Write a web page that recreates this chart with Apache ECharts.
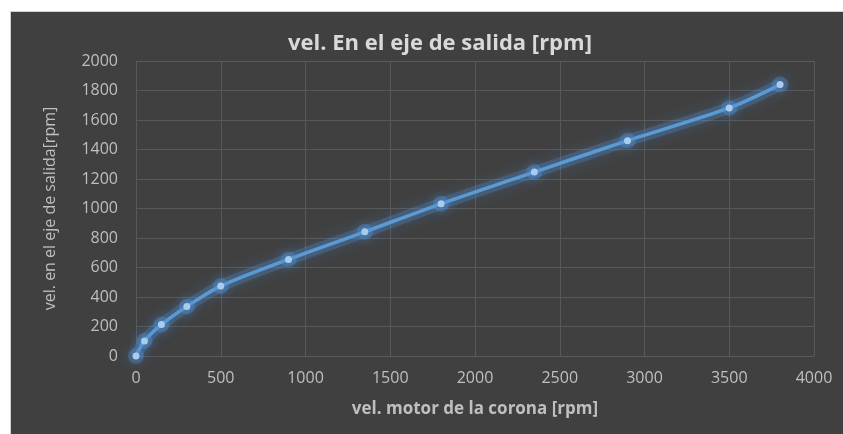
<!DOCTYPE html>
<html>
<head>
<meta charset="utf-8">
<script src="https://cdn.jsdelivr.net/npm/echarts@6/dist/echarts.min.js"></script>
<style>
  html, body { margin: 0; padding: 0; background: #fff; }
  #panel { position: absolute; left: 10px; top: 11px; width: 833px; height: 423px;
           background: #404040; border-left: 1px solid #d0d0d0; border-top: 1px solid #d0d0d0; box-sizing: border-box; }
  #chart { width: 100%; height: 100%; }
</style>
</head>
<body>
<div id="panel"><div id="chart"></div></div>
<script>
const titleText = 'vel. En el eje de salida [rpm]'
const xName = 'vel. motor de la corona [rpm]'
const yName = 'vel. en el eje de salida[rpm]'
// motor speed (x) and output shaft speed (y)
const motorRpm = [0, 50, 150, 300, 500, 900, 1350, 1800, 2350, 2900, 3500, 3800]
const outputRpm = [0, 102, 213, 336, 474, 655, 842, 1032, 1247, 1460, 1682, 1840]

const font = "'Open Sans', 'Liberation Sans', sans-serif"
const plain = (v) => String(v)
const points = motorRpm.map((x, i) => [x, outputRpm[i]])
const chart = echarts.init(document.getElementById('chart'))
chart.setOption({
  animation: false,
  backgroundColor: 'transparent',
  title: {
    text: titleText, left: 424, top: 16, textAlign: 'center',
    textStyle: { color: '#d9d9d9', fontSize: 22, fontWeight: 'bold', fontFamily: font }
  },
  grid: { left: 125, right: 29, top: 49, height: 295 },
  xAxis: {
    type: 'value', min: 0, max: 4000, interval: 500,
    name: xName, nameLocation: 'middle', nameGap: 45,
    nameTextStyle: { color: '#bfbfbf', fontSize: 17, fontWeight: 'bold', fontFamily: font },
    axisLine: { show: false }, axisTick: { show: false },
    axisLabel: { color: '#bfbfbf', fontSize: 16, margin: 14, fontFamily: font, formatter: plain },
    splitLine: { lineStyle: { color: '#595959', width: 1 } }
  },
  yAxis: {
    type: 'value', min: 0, max: 2000, interval: 200,
    name: yName, nameLocation: 'middle', nameGap: 78,
    nameTextStyle: { color: '#bfbfbf', fontSize: 16, fontFamily: font },
    axisLine: { show: false }, axisTick: { show: false },
    axisLabel: { color: '#bfbfbf', fontSize: 16, margin: 18, fontFamily: font, formatter: plain },
    splitLine: { lineStyle: { color: '#595959', width: 1 } }
  },
  series: [
    { // soft glow underneath
      type: 'line', smooth: 0.3, data: points, silent: true,
      symbol: 'circle', symbolSize: 16,
      lineStyle: { color: 'rgba(80,145,215,0.28)', width: 12, shadowBlur: 14, shadowColor: 'rgba(80,145,215,0.8)' },
      itemStyle: { color: 'rgba(80,145,215,0.35)', borderWidth: 0, shadowBlur: 12, shadowColor: 'rgba(80,145,215,0.9)' }
    },
    {
      type: 'line', smooth: 0.3, data: points,
      symbol: 'circle', symbolSize: 7,
      lineStyle: { color: '#5b9bd5', width: 3.5 },
      itemStyle: { color: '#a9cbee', borderWidth: 0 }
    }
  ]
})
</script>
</body>
</html>
